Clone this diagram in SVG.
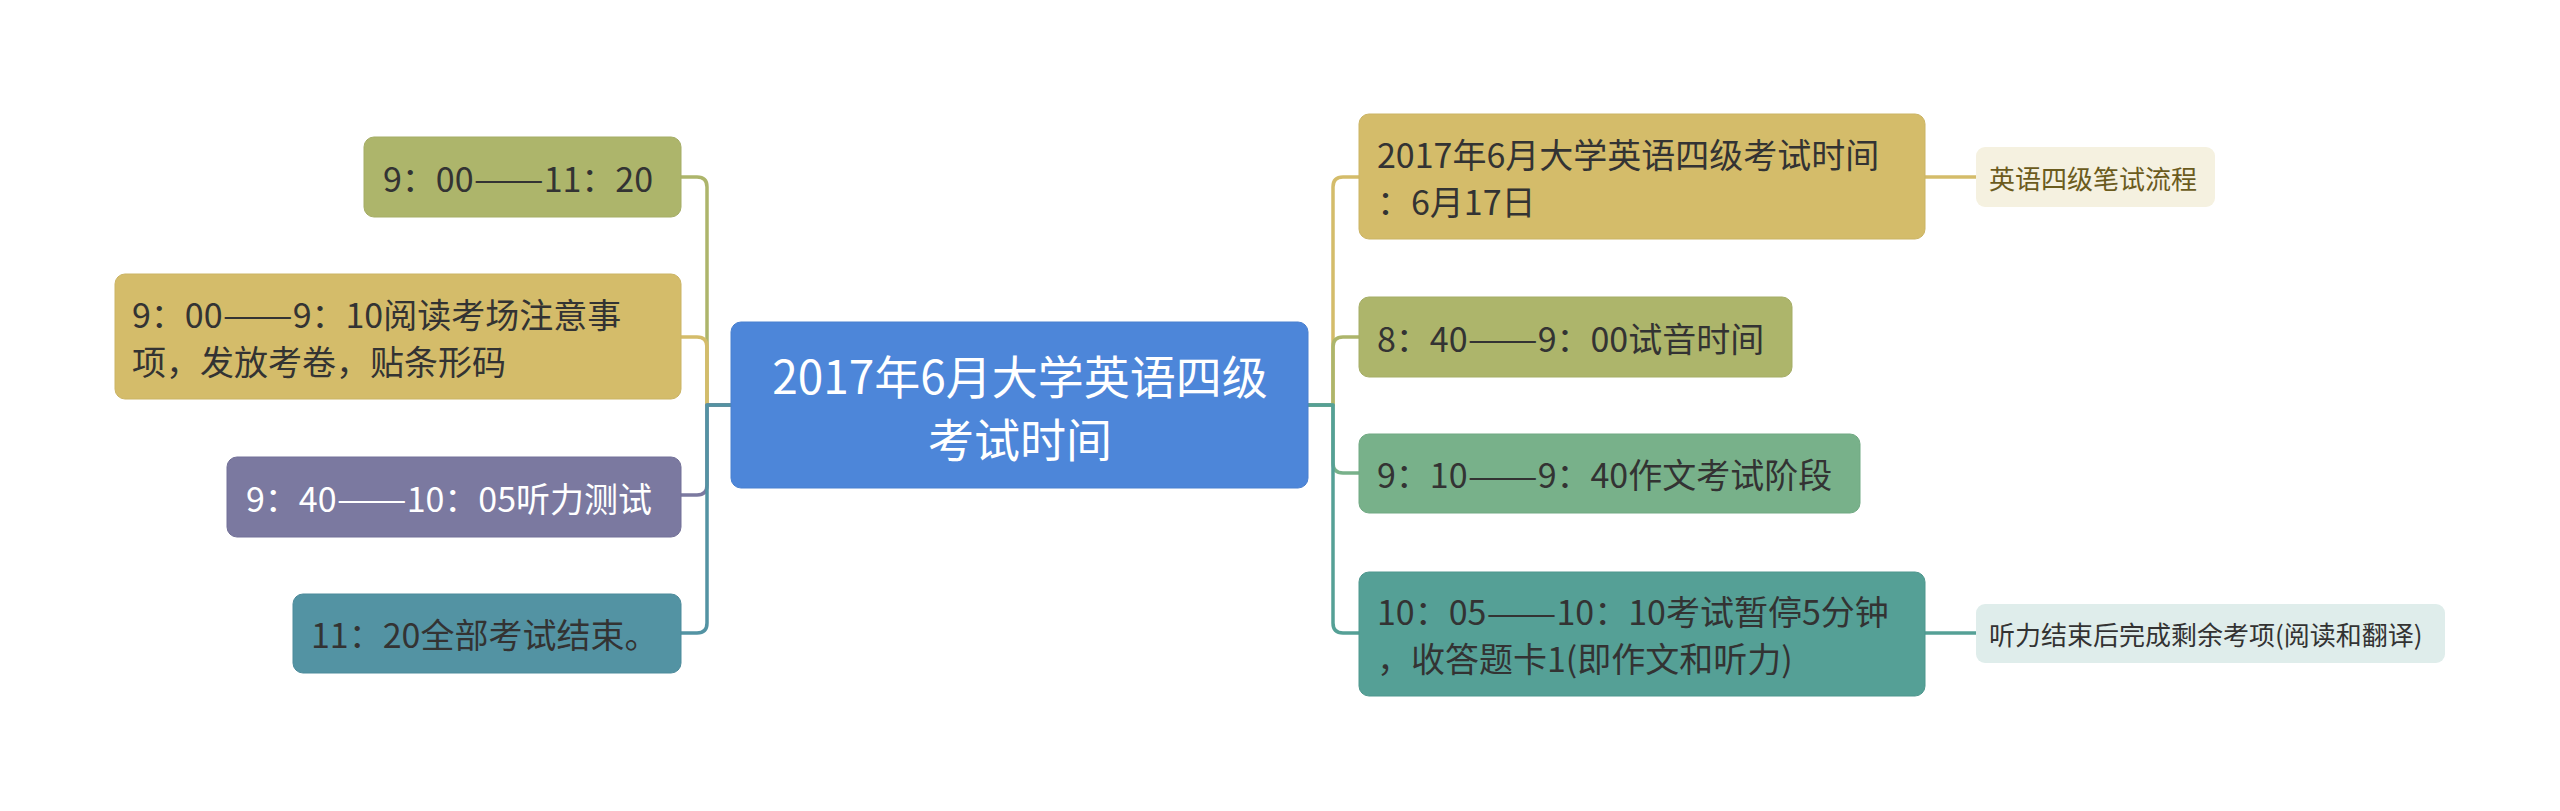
<svg xmlns="http://www.w3.org/2000/svg" width="2560" height="811" viewBox="0 0 2560 811">
<style>
text{font-family:"Noto Sans CJK SC","Microsoft YaHei",sans-serif;dominant-baseline:central}
.b{font-size:34px;fill:#333333}
.w{fill:#ffffff}
.c{font-size:46px;fill:#ffffff;text-anchor:middle}
.s{font-size:26px}
.ln{fill:none;stroke-width:3.5;stroke-linejoin:round}
</style>
<rect width="2560" height="811" fill="#ffffff"/>
<g id="connectors">
<path class="ln" stroke="#adb56b" d="M681,177 H697 Q707,177 707,187 V405 H731"/>
<path class="ln" stroke="#d4bc6a" d="M681,337 H697 Q707,337 707,347 V405 H731"/>
<path class="ln" stroke="#7b79a0" d="M681,495 H697 Q707,495 707,485 V405 H731"/>
<path class="ln" stroke="#5393a3" d="M681,633 H697 Q707,633 707,623 V405 H731"/>
<path class="ln" stroke="#d4bc6a" d="M1308,405 H1333 V187 Q1333,177 1343,177 H1359"/>
<path class="ln" stroke="#adb56b" d="M1308,405 H1333 V347 Q1333,337 1343,337 H1359"/>
<path class="ln" stroke="#78b18a" d="M1308,405 H1333 V463 Q1333,473 1343,473 H1359"/>
<path class="ln" stroke="#55a096" d="M1308,405 H1333 V623 Q1333,633 1343,633 H1359"/>
<path class="ln" stroke="#d4bc6a" d="M1925,177 H1976"/>
<path class="ln" stroke="#55a096" d="M1925,633 H1976"/>
</g>
<g id="center">
<rect x="731" y="322" width="577" height="166" rx="10" fill="#4d86d9" stroke="#4a80cf" stroke-width="1"/>
<text class="c" x="1020" y="373.5">2017年6月大学英语四级</text>
<text class="c" x="1020" y="436.5">考试时间</text>
</g>
<g id="L1">
<rect x="364" y="137" width="317" height="80" rx="10" fill="#adb56b" stroke="#a5ad66" stroke-width="1"/>
<text class="b" x="383" y="177">9：00<tspan textLength="70" lengthAdjust="spacingAndGlyphs">——</tspan>11：20</text>
</g>
<g id="L2">
<rect x="115" y="274" width="566" height="125" rx="10" fill="#d4bc6a" stroke="#cbb465" stroke-width="1"/>
<text class="b" x="132" y="313">9：00<tspan textLength="70" lengthAdjust="spacingAndGlyphs">——</tspan>9：10阅读考场注意事</text>
<text class="b" x="132" y="360">项，发放考卷，贴条形码</text>
</g>
<g id="L3">
<rect x="227" y="457" width="454" height="80" rx="10" fill="#7b79a0" stroke="#737198" stroke-width="1"/>
<text class="b w" x="246" y="497">9：40<tspan textLength="70" lengthAdjust="spacingAndGlyphs">——</tspan>10：05听力测试</text>
</g>
<g id="L4">
<rect x="293" y="594" width="388" height="79" rx="10" fill="#5393a3" stroke="#4d8b9b" stroke-width="1"/>
<text class="b" x="311" y="633.5">11：20全部考试结束。</text>
</g>
<g id="R1">
<rect x="1359" y="114" width="566" height="125" rx="10" fill="#d4bc6a" stroke="#cbb465" stroke-width="1"/>
<text class="b" x="1377" y="153">2017年6月大学英语四级考试时间</text>
<text class="b" x="1377" y="200">：6月17日</text>
</g>
<g id="R2">
<rect x="1359" y="297" width="433" height="80" rx="10" fill="#adb56b" stroke="#a5ad66" stroke-width="1"/>
<text class="b" x="1377" y="337">8：40<tspan textLength="70" lengthAdjust="spacingAndGlyphs">——</tspan>9：00试音时间</text>
</g>
<g id="R3">
<rect x="1359" y="434" width="501" height="79" rx="10" fill="#78b18a" stroke="#71a983" stroke-width="1"/>
<text class="b" x="1377" y="473.5">9：10<tspan textLength="70" lengthAdjust="spacingAndGlyphs">——</tspan>9：40作文考试阶段</text>
</g>
<g id="R4">
<rect x="1359" y="572" width="566" height="124" rx="10" fill="#55a096" stroke="#4f978e" stroke-width="1"/>
<text class="b" x="1377" y="610.5">10：05<tspan textLength="70" lengthAdjust="spacingAndGlyphs">——</tspan>10：10考试暂停5分钟</text>
<text class="b" x="1377" y="657.5">，收答题卡1(即作文和听力)</text>
</g>
<g id="S1">
<rect x="1976" y="147" width="239" height="60" rx="9" fill="#f5f1e0"/>
<text class="s" x="1989" y="177" fill="#6b5b1d">英语四级笔试流程</text>
</g>
<g id="S2">
<rect x="1976" y="604" width="469" height="59" rx="9" fill="#dfedeb"/>
<text class="s" x="1989" y="633.5" fill="#333333">听力结束后完成剩余考项(阅读和翻译)</text>
</g>
</svg>
